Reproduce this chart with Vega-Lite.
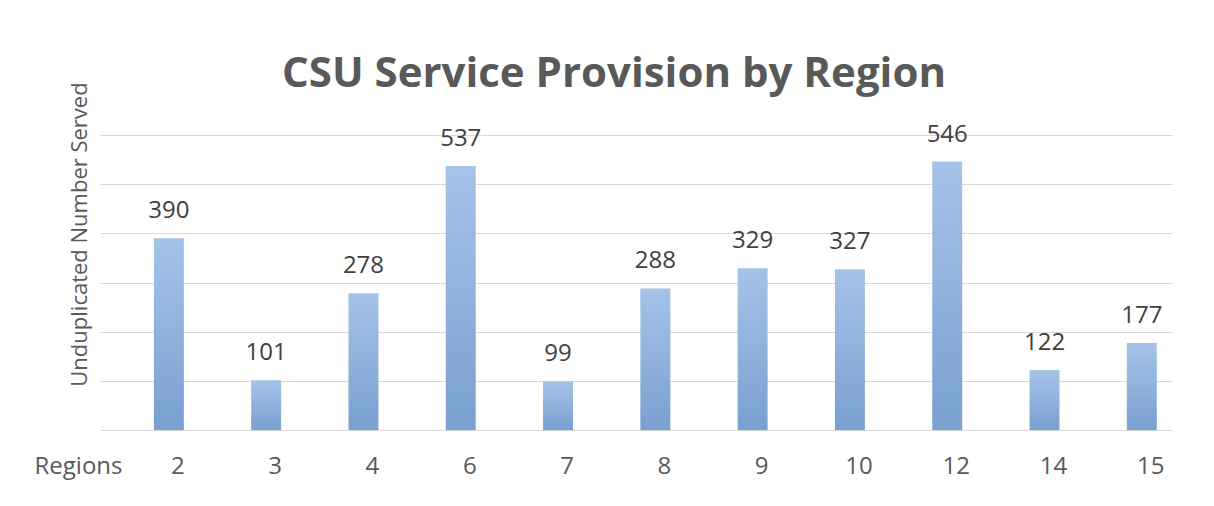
{
  "$schema": "https://vega.github.io/schema/vega-lite/v6.json",
  "autosize": "none",
  "width": 1072,
  "height": 295,
  "padding": {"top": 135, "left": 100, "right": 42, "bottom": 76},
  "background": "white",
  "view": {"stroke": null},
  "title": {
    "text": "CSU Service Provision by Region",
    "font": "Open Sans",
    "fontSize": 42,
    "fontWeight": "bold",
    "color": "#595959",
    "anchor": "middle",
    "dx": -22,
    "offset": -14
  },
  "data": {
    "values": [
      {"region": "2", "served": 390},
      {"region": "3", "served": 101},
      {"region": "4", "served": 278},
      {"region": "6", "served": 537},
      {"region": "7", "served": 99},
      {"region": "8", "served": 288},
      {"region": "9", "served": 329},
      {"region": "10", "served": 327},
      {"region": "12", "served": 546},
      {"region": "14", "served": 122},
      {"region": "15", "served": 177}
    ]
  },
  "encoding": {
    "x": {
      "field": "region",
      "type": "ordinal",
      "sort": null,
      "scale": {"paddingInner": 0.692, "paddingOuter": 0.355, "align": 0.78},
      "axis": {
        "title": "Regions",
        "titleFont": "Open Sans",
        "titleFontSize": 24,
        "titleFontWeight": "normal",
        "titleColor": "#595959",
        "titleX": -22,
        "titleY": 43,
        "titleAlign": "center",
        "titleBaseline": "alphabetic",
        "labelFont": "Open Sans",
        "labelFontSize": 24,
        "labelColor": "#595959",
        "labelAngle": 0,
        "labelBaseline": "alphabetic",
        "labelPadding": 43,
        "labelOffset": 9,
        "ticks": false,
        "domain": false,
        "grid": false
      }
    },
    "y": {
      "field": "served",
      "type": "quantitative",
      "scale": {"domain": [0, 600], "nice": false},
      "axis": {
        "title": "Unduplicated Number Served",
        "titleFont": "Open Sans",
        "titleFontSize": 22,
        "titleFontWeight": "normal",
        "titleColor": "#595959",
        "titleAngle": -90,
        "titleX": -21,
        "titleY": 99,
        "titleAlign": "center",
        "titleBaseline": "middle",
        "values": [0, 100, 200, 300, 400, 500, 600],
        "labels": false,
        "ticks": false,
        "domain": false,
        "grid": true,
        "gridColor": "#d9d9d9",
        "gridWidth": 1.2
      }
    }
  },
  "layer": [
    {
      "mark": {
        "type": "bar",
        "color": {
          "gradient": "linear",
          "x1": 0, "y1": 0, "x2": 0, "y2": 1,
          "stops": [
            {"offset": 0, "color": "#a5c3e8"},
            {"offset": 1, "color": "#79a0d0"}
          ]
        }
      }
    },
    {
      "mark": {
        "type": "text",
        "font": "Open Sans",
        "fontSize": 24,
        "color": "#404040",
        "baseline": "alphabetic",
        "dy": -20
      },
      "encoding": {"text": {"field": "served", "type": "quantitative"}}
    }
  ]
}
